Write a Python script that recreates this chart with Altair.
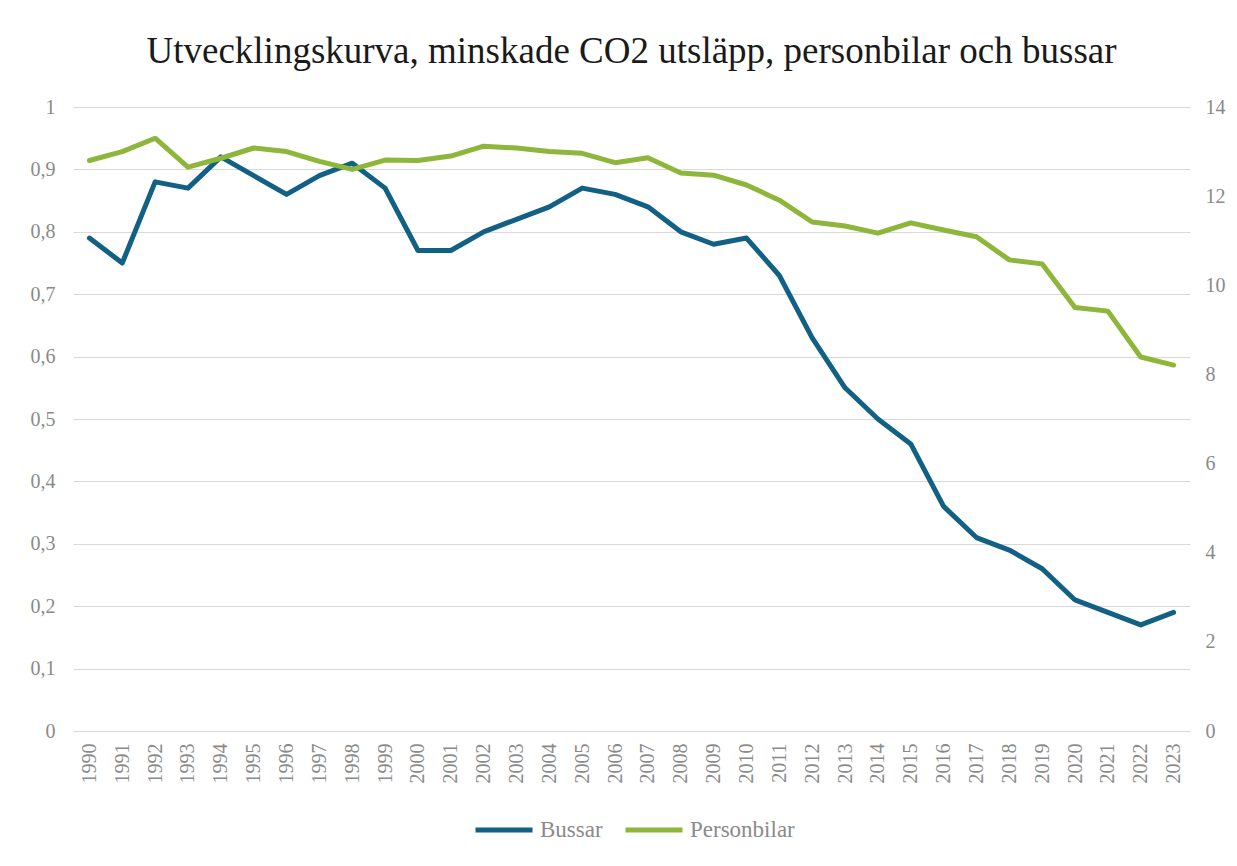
import altair as alt
import pandas as pd

years = [str(y) for y in range(1990, 2024)]
bussar = [0.79, 0.75, 0.88, 0.87, 0.92, 0.89, 0.86, 0.89, 0.91, 0.87,
          0.77, 0.77, 0.80, 0.82, 0.84, 0.87, 0.86, 0.84, 0.80, 0.78,
          0.79, 0.73, 0.63, 0.55, 0.50, 0.46, 0.36, 0.31, 0.29, 0.26,
          0.21, 0.19, 0.17, 0.19]
personbilar = [12.8, 13.0, 13.3, 12.65, 12.85, 13.08, 13.0, 12.78, 12.6, 12.81,
               12.8, 12.9, 13.12, 13.08, 13.0, 12.96, 12.75, 12.86, 12.52, 12.47,
               12.25, 11.91, 11.42, 11.33, 11.17, 11.4, 11.24, 11.09, 10.57, 10.48,
               9.5, 9.42, 8.39, 8.21]
series_names = ["Bussar", "Personbilar"]
series_colors = ["#126184", "#8DB63A"]
left_ticks = [round(i * 0.1, 1) for i in range(11)]
right_ticks = list(range(0, 15, 2))

df = pd.DataFrame({
    "year": years * 2,
    "serie": [series_names[0]] * len(years) + [series_names[1]] * len(years),
    "value": bussar + personbilar,
})

FONT = "Liberation Serif"
LABEL_COLOR = "#8a8a8a"

x_enc = alt.X(
    "year:O",
    scale=alt.Scale(type="point", padding=0.5),
    axis=alt.Axis(title=None, labelAngle=-90, labelFont=FONT, labelFontSize=20,
                  labelColor=LABEL_COLOR, ticks=False, domain=True,
                  domainColor="#d9d9d9", labelPadding=12, grid=False),
)
color_enc = alt.Color(
    "serie:N",
    scale=alt.Scale(domain=series_names, range=series_colors),
    legend=alt.Legend(title=None, orient="none", direction="horizontal",
                      legendX=400, legendY=692, labelFont=FONT, labelFontSize=23,
                      labelColor=LABEL_COLOR, symbolType="stroke",
                      symbolSize=3249, symbolStrokeWidth=5, labelOffset=5,
                      columnPadding=12),
)

base = alt.Chart(df).mark_line(strokeWidth=5, strokeJoin="round", strokeCap="round")

left = base.transform_filter(alt.datum.serie == series_names[0]).encode(
    x=x_enc,
    y=alt.Y("value:Q", scale=alt.Scale(domain=[0, 1]),
            axis=alt.Axis(title=None, values=left_ticks, orient="left",
                          labelExpr="replace(format(datum.value, '.1~f'), '.', ',')",
                          labelFont=FONT, labelFontSize=20, labelColor=LABEL_COLOR,
                          ticks=False, domain=False, grid=True, gridColor="#d9d9d9",
                          gridWidth=1.2, labelPadding=18)),
    color=color_enc,
)
right = base.transform_filter(alt.datum.serie == series_names[1]).encode(
    x=x_enc,
    y=alt.Y("value:Q", scale=alt.Scale(domain=[0, 14]),
            axis=alt.Axis(title=None, values=right_ticks, orient="right",
                          labelFont=FONT, labelFontSize=20, labelColor=LABEL_COLOR,
                          ticks=False, domain=False, grid=False, labelPadding=15)),
    color=color_enc,
)

chart = alt.layer(left, right).resolve_scale(y="independent").properties(
    width=1117, height=624,
    autosize=alt.AutoSizeParams(type="none"),
    padding={"left": 65, "top": 99, "right": 39, "bottom": 127},
    title=alt.TitleParams(
        text="Utvecklingskurva, minskade CO2 utsläpp, personbilar och bussar",
        font=FONT, fontSize=37, fontWeight="normal", color="#1a1a1a",
        anchor="middle", offset=26),
).configure_view(stroke=None)

chart.save("out.html", embed_options={"renderer": "svg", "actions": False})
